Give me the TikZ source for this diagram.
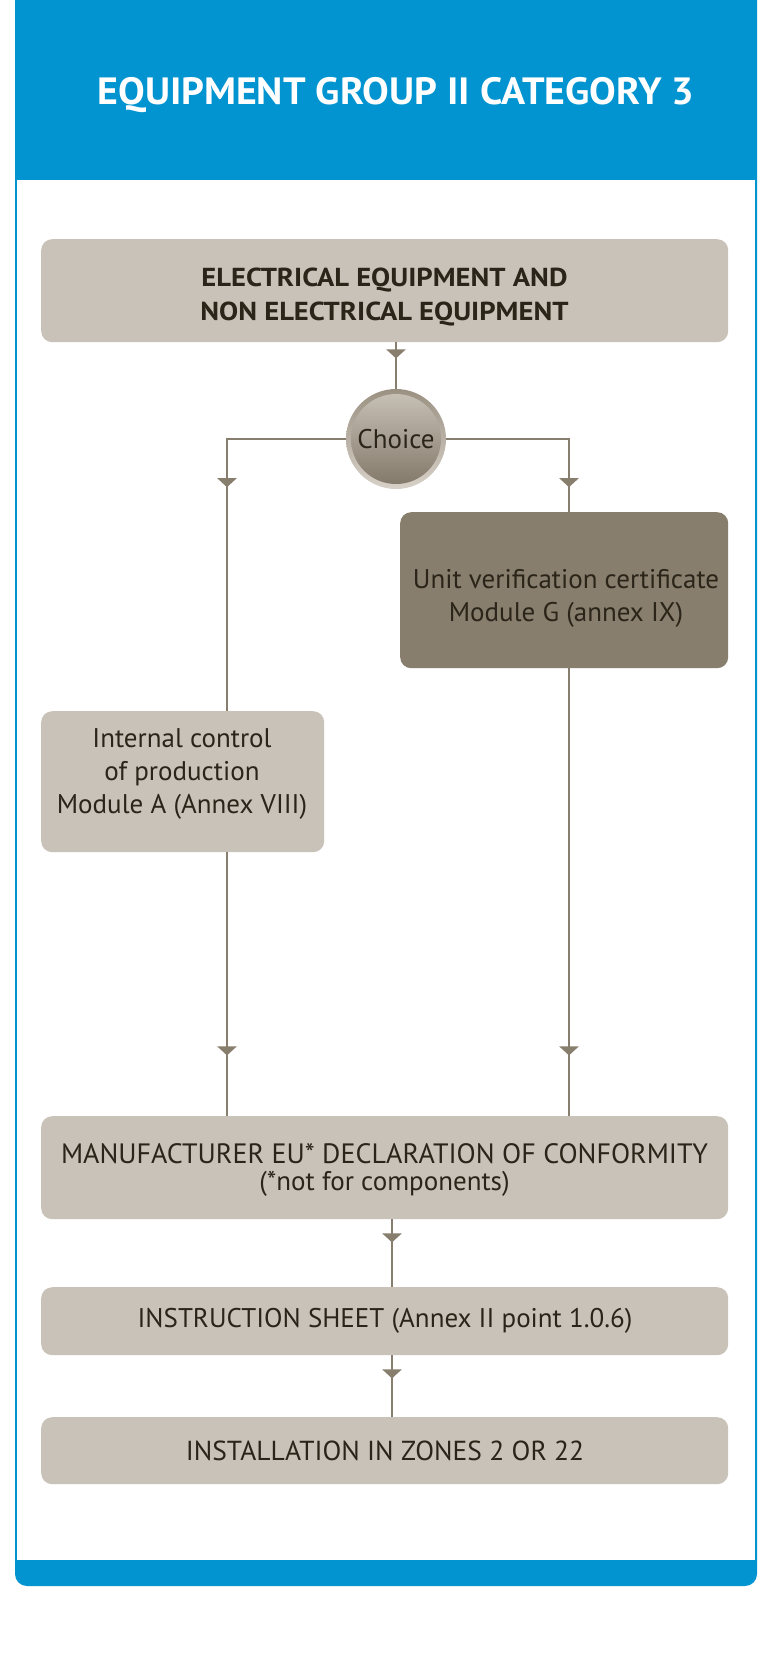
\documentclass[tikz,border=0pt]{standalone}
\usepackage{fontspec}
\setmainfont{PT Sans}
\newfontfamily\titlefont{PT Sans}[FakeStretch=1.05]
\newfontfamily\headfont{PT Sans}[FakeStretch=1.1]
\usetikzlibrary{arrows.meta,decorations.markings}
\definecolor{hdrblue}{HTML}{0294D0}
\definecolor{boxgray}{HTML}{C9C2B8}
\definecolor{boxdark}{HTML}{877E6D}
\definecolor{linec}{HTML}{877E6D}
\definecolor{txtc}{HTML}{2B2519}
\definecolor{ringtop}{HTML}{9A9182}
\definecolor{ringbot}{HTML}{D8D1C8}
\definecolor{intop}{HTML}{C6BFB4}
\definecolor{inbot}{HTML}{847A6B}
\tikzset{
  box/.style={fill=boxgray, rounded corners=11pt, inner sep=0pt, anchor=north west},
  dbox/.style={box, fill=boxdark},
  lbl/.style={text=txtc, align=center, inner sep=0pt, font=\fontsize{27}{33}\selectfont},
  conn/.style={draw=linec, line width=2.6pt},
  tipat/.style={postaction={decorate}, decoration={markings,
      mark=at position #1 with {\arrow{Triangle[width=19pt,length=9pt]}}}},
}
\begin{document}
\begin{tikzpicture}[x=1pt,y=-1pt]
\useasboundingbox (0,0) rectangle (767,1664);
% panel
\fill[hdrblue, rounded corners=12pt] (15,-20) rectangle (757,1586);
\fill[white] (17,180) rectangle (755,1560);
\node[text=white, font=\titlefont\bfseries\fontsize{38}{42}\selectfont, inner sep=0pt] (title) at (396,95) {EQUIPMENT GROUP II CATEGORY 3};
% coordinates for connector columns
\coordinate (lx) at (227,0);
\coordinate (rx) at (569,0);
\coordinate (mx) at (392,0);
% boxes
\node[box, minimum width=687pt, minimum height=103pt] (top) at (41,239) {};
\node[lbl, font=\headfont\bfseries\fontsize{26}{34}\selectfont] (toptxt) at (384.5,297) {ELECTRICAL EQUIPMENT AND\\NON ELECTRICAL EQUIPMENT};
\node[dbox, minimum width=328pt, minimum height=156pt] (G) at (400,512) {};
\node[lbl] (Gtxt) at (566,598) {Unit verification certificate\\Module G (annex IX)};
\node[box, minimum width=283pt, minimum height=141pt] (A) at (41,711) {};
\node[lbl] (Atxt) at (182,774) {Internal control\\of production\\Module A (Annex VIII)};
\node[box, minimum width=687pt, minimum height=103pt] (mfr) at (41,1116) {};
\node[lbl] (mfrtxt) at (384.5,1170) {{\fontsize{28}{33}\selectfont MANUFACTURER EU* DECLARATION OF CONFORMITY}\\[-6pt](*not for components)};
\node[box, minimum width=687pt, minimum height=68pt] (instr) at (41,1287) {};
\node[lbl] (instrtxt) at (385,1321) {INSTRUCTION SHEET (Annex II point 1.0.6)};
\node[box, minimum width=687pt, minimum height=67pt] (inst) at (41,1417) {};
\node[lbl, font=\fontsize{27.5}{33}\selectfont] (insttxt) at (385,1450.5) {INSTALLATION IN ZONES 2 OR 22};
% choice circle
\node[circle, minimum size=100pt, inner sep=0pt, top color=ringtop, bottom color=ringbot] (choice) at (396,439) {};
\node[circle, minimum size=90pt, inner sep=0pt, top color=intop, bottom color=inbot, text=txtc, font=\fontsize{27}{30}\selectfont] (choicein) at (choice.center) {Choice};
% connectors
\draw[conn, tipat=16pt] (top.south -| choice.north) -- (choice.north);
\draw[conn, tipat=167pt] (choice.west) -| (A.north -| lx);
\draw[conn, tipat=171pt] (choice.east) -| (G.north -| rx);
\draw[conn, tipat=203pt] (A.south -| lx) -- (mfr.north -| lx);
\draw[conn, tipat=387pt] (G.south -| rx) -- (mfr.north -| rx);
\draw[conn, tipat=23pt] (mfr.south -| mx) -- (instr.north -| mx);
\draw[conn, tipat=23pt] (instr.south -| mx) -- (inst.north -| mx);
\end{tikzpicture}
\end{document}
